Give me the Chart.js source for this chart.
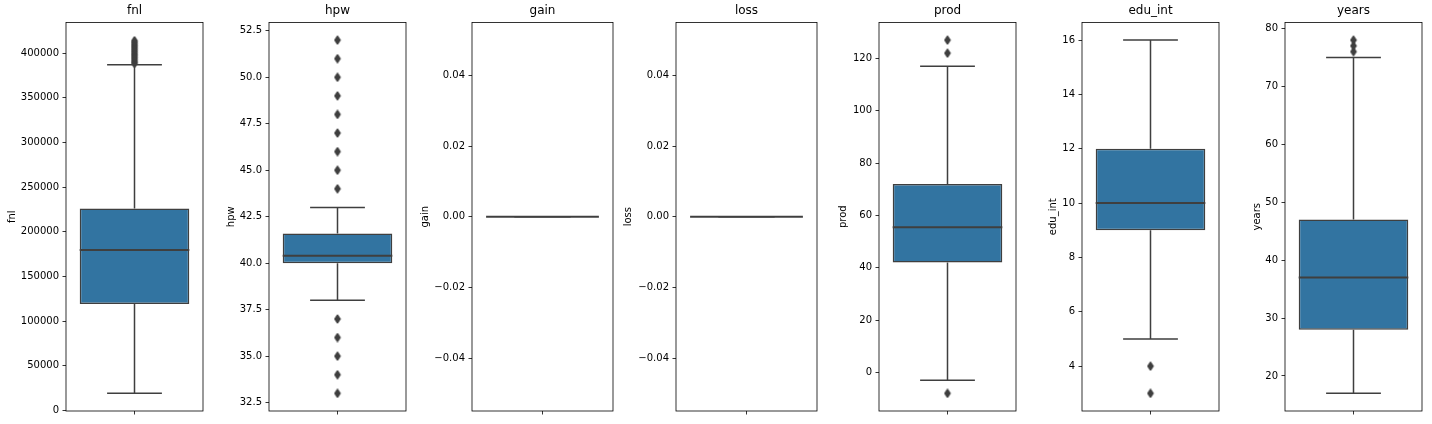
<!DOCTYPE html>
<html>
<head>
<meta charset="utf-8">
<script src="https://cdn.jsdelivr.net/npm/chart.js@4.4.0/dist/chart.umd.min.js"></script>
<style>
  html, body { margin: 0; padding: 0; background: #fff; }
  #wrap { position: relative; width: 1432px; height: 424px; overflow: hidden; }
  #wrap canvas { position: absolute; top: 0; }
</style>
</head>
<body>
<div id="wrap"></div>
<script>
// box statistics per column
const columns = ['fnl', 'hpw', 'gain', 'loss', 'prod', 'edu_int', 'years']
const whiskerLow = [19000, 38, 0, 0, -3, 5, 17]
const q1 = [119000, 40, 0, 0, 42, 9, 28]
const medians = [179500, 40.4, 0, 0, 55.5, 10, 37]
const q3 = [226000, 41.6, 0, 0, 72, 12, 47]
const whiskerHigh = [387000, 43, 0, 0, 117, 16, 75]
const outliers = [
  [388500, 390000, 392000, 394000, 396000, 398000, 400000, 402000, 404000, 406000, 408000, 410000, 412000, 414000],
  [44, 45, 46, 47, 48, 49, 50, 51, 52, 37, 36, 35, 34, 33],
  [],
  [],
  [127, 122, -8],
  [4, 3],
  [76, 77, 78]
]

const yTicks = [
  [0, 50000, 100000, 150000, 200000, 250000, 300000, 350000, 400000],
  [32.5, 35, 37.5, 40, 42.5, 45, 47.5, 50, 52.5],
  [-0.04, -0.02, 0, 0.02, 0.04],
  [-0.04, -0.02, 0, 0.02, 0.04],
  [0, 20, 40, 60, 80, 100, 120],
  [4, 6, 8, 10, 12, 14, 16],
  [20, 30, 40, 50, 60, 70, 80]
]
const yTickLabels = [
  ['0', '50000', '100000', '150000', '200000', '250000', '300000', '350000', '400000'],
  ['32.5', '35.0', '37.5', '40.0', '42.5', '45.0', '47.5', '50.0', '52.5'],
  ['\u22120.04', '\u22120.02', '0.00', '0.02', '0.04'],
  ['\u22120.04', '\u22120.02', '0.00', '0.02', '0.04'],
  ['0', '20', '40', '60', '80', '100', '120'],
  ['4', '6', '8', '10', '12', '14', '16'],
  ['20', '30', '40', '50', '60', '70', '80']
]

// axis limits (matplotlib style 5% margins)
const yMin = [-800, 32.05, -0.055, -0.055, -14.75, 2.35, 13.95]
const yMax = [434500, 52.95, 0.055, 0.055, 133.75, 16.65, 81.05]

// layout of the panels
const plotLeft = [66, 269, 472, 676, 879, 1082, 1285]
const plotWidth = 141
const yTitleX = [12, 231, 425, 628, 843, 1053, 1257]
const plotBottom = 411
const H = 424

const lineGray = '#3f3f3f'
const boxBlue = '#3274a1'
const fontFamily = "'DejaVu Sans', sans-serif"

function makeDiamond() {
  const c = document.createElement('canvas')
  c.width = 8
  c.height = 10
  const g = c.getContext('2d')
  g.fillStyle = lineGray
  g.strokeStyle = lineGray
  g.lineWidth = 1.5
  g.lineJoin = 'round'
  g.beginPath()
  g.moveTo(4, 1.2)
  g.lineTo(6.5, 5)
  g.lineTo(4, 8.8)
  g.lineTo(1.5, 5)
  g.closePath()
  g.fill()
  g.stroke()
  return c
}
const diamond = makeDiamond()

function makeWhiskers(i) {
  return {
    id: 'boxWhiskers' + i,
    afterDatasetsDraw(chart) {
      const bar = chart.getDatasetMeta(0).data[0]
      const y = chart.scales.y
      const ctx = chart.ctx
      const half = bar.width / 2
      const cap = bar.width / 4
      const x = bar.x
      ctx.save()
      ctx.strokeStyle = lineGray
      ctx.lineWidth = 1.5
      ctx.beginPath()
      // upper whisker + cap
      ctx.moveTo(x, y.getPixelForValue(q3[i]))
      ctx.lineTo(x, y.getPixelForValue(whiskerHigh[i]))
      ctx.moveTo(x - cap, y.getPixelForValue(whiskerHigh[i]))
      ctx.lineTo(x + cap, y.getPixelForValue(whiskerHigh[i]))
      // lower whisker + cap
      ctx.moveTo(x, y.getPixelForValue(q1[i]))
      ctx.lineTo(x, y.getPixelForValue(whiskerLow[i]))
      ctx.moveTo(x - cap, y.getPixelForValue(whiskerLow[i]))
      ctx.lineTo(x + cap, y.getPixelForValue(whiskerLow[i]))
      ctx.stroke()
      // median
      ctx.lineWidth = 2
      ctx.beginPath()
      ctx.moveTo(x - half, y.getPixelForValue(medians[i]))
      ctx.lineTo(x + half, y.getPixelForValue(medians[i]))
      ctx.stroke()
      ctx.restore()
    }
  }
}

const frame = {
  id: 'frame',
  afterDraw(chart) {
    const {left, top, right, bottom} = chart.chartArea
    const ctx = chart.ctx
    ctx.save()
    ctx.strokeStyle = '#000'
    ctx.lineWidth = 0.8
    ctx.strokeRect(left, top, right - left, bottom - top)
    ctx.restore()
  }
}

const wrap = document.getElementById('wrap')

columns.forEach((name, i) => {
  const left = yTitleX[i] - 6
  const width = plotLeft[i] + plotWidth + 1 - left
  const canvas = document.createElement('canvas')
  canvas.width = width
  canvas.height = H
  canvas.style.left = left + 'px'
  canvas.style.width = width + 'px'
  canvas.style.height = H + 'px'
  wrap.appendChild(canvas)

  new Chart(canvas.getContext('2d'), {
    type: 'bar',
    data: {
      labels: [''],
      datasets: [
        {
          data: [[q1[i], q3[i]]],
          backgroundColor: boxBlue,
          borderColor: lineGray,
          borderWidth: 1.5,
          borderSkipped: false,
          categoryPercentage: 1,
          barPercentage: 0.8
        },
        {
          type: 'line',
          data: outliers[i].map(v => ({x: '', y: v})),
          showLine: false,
          pointStyle: diamond,
          pointRadius: 4,
          pointBackgroundColor: lineGray,
          pointBorderColor: lineGray
        }
      ]
    },
    options: {
      responsive: false,
      animation: false,
      devicePixelRatio: 1,
      layout: { padding: { left: 0, right: 1, top: 0, bottom: 0 } },
      plugins: {
        legend: { display: false },
        tooltip: { enabled: false },
        title: {
          display: true,
          text: name,
          fullSize: false,
          color: '#000',
          font: { family: fontFamily, size: 12, weight: 'normal' },
          padding: { top: 4, bottom: 4 }
        }
      },
      scales: {
        x: {
          type: 'category',
          offset: true,
          border: { display: false },
          grid: { offset: false, drawOnChartArea: false, drawTicks: true, tickLength: 3.5, tickWidth: 0.8, tickColor: '#000' },
          ticks: { display: true, padding: 0, font: { family: fontFamily, size: 10 } },
          afterFit: s => {
            s.height = H - plotBottom
            s.paddingLeft = 0
            s.paddingRight = 0
          }
        },
        y: {
          type: 'linear',
          min: yMin[i],
          max: yMax[i],
          border: { display: false },
          grid: { drawOnChartArea: false, drawTicks: true, tickLength: 3.5, tickWidth: 0.8, tickColor: '#000' },
          afterBuildTicks: s => { s.ticks = yTicks[i].map(v => ({value: v})) },
          ticks: {
            color: '#000',
            padding: 3.5,
            autoSkip: false,
            font: { family: fontFamily, size: 10 },
            callback: v => yTickLabels[i][yTicks[i].indexOf(v)]
          },
          title: {
            display: true,
            text: name,
            color: '#000',
            padding: 0,
            font: { family: fontFamily, size: 10 }
          },
          afterFit: s => { s.width = plotLeft[i] - left }
        }
      }
    },
    plugins: [makeWhiskers(i), frame]
  })
})
</script>
</body>
</html>
